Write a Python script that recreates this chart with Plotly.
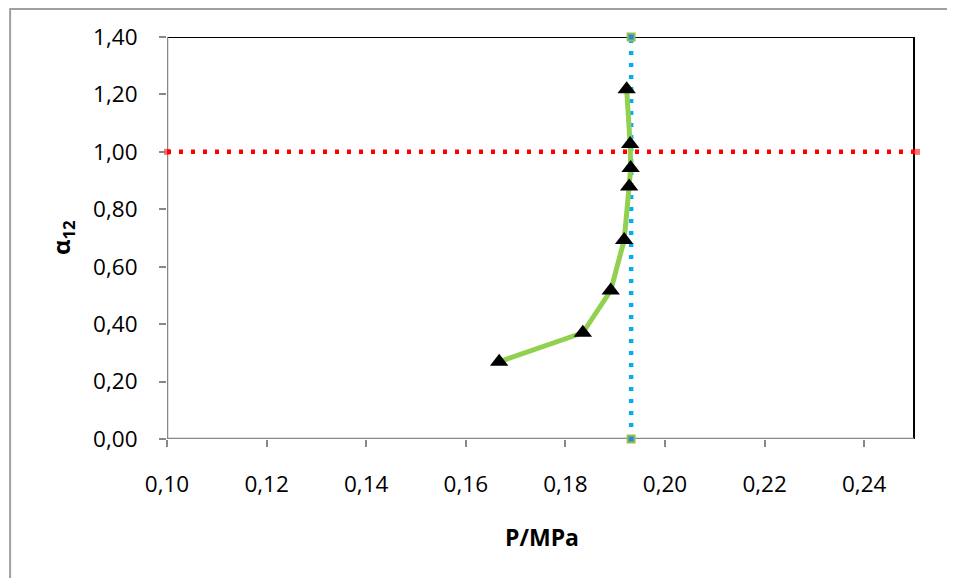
import plotly.graph_objects as go

# Data
pressure = [0.1667, 0.1835, 0.1891, 0.1918, 0.1928, 0.1931, 0.1930, 0.1923]
alpha12 = [0.269, 0.370, 0.517, 0.693, 0.879, 0.944, 1.027, 1.218]

ref_alpha_x = [0.10, 0.2506]
ref_alpha_y = [1.00, 1.00]
ref_p_x = [0.1932, 0.1932]
ref_p_y = [0.00, 1.40]

x_ticks = [0.10, 0.12, 0.14, 0.16, 0.18, 0.20, 0.22, 0.24]
y_ticks = [0.00, 0.20, 0.40, 0.60, 0.80, 1.00, 1.20, 1.40]

# page body offsets the figure by 8px
OFF = 8
W, H = 947, 570
L, T = 167 - OFF, 37 - OFF
R = W - (917.5 - OFF)
B = H - (439 - OFF)
PW, PH = W - L - R, H - T - B

fig = go.Figure()

fig.add_trace(go.Scatter(
    x=ref_alpha_x, y=ref_alpha_y, mode="lines+markers",
    line=dict(color="#FF0000", width=4.5, dash="4px,8px"),
    marker=dict(symbol="square", size=6, color="rgba(255,0,0,0.55)"),
    cliponaxis=False, showlegend=False))

fig.add_trace(go.Scatter(
    x=ref_p_x, y=ref_p_y, mode="lines+markers",
    line=dict(color="#00B0F0", width=4.5, dash="4px,8px"),
    marker=dict(symbol="square", size=7, color="#1F8FD0",
                line=dict(color="#9BBB59", width=2)),
    cliponaxis=False, showlegend=False))

fig.add_trace(go.Scatter(
    x=pressure, y=alpha12, mode="lines+markers",
    line=dict(color="#92D050", width=5),
    marker=dict(symbol="triangle-up", size=16, color="black"),
    cliponaxis=False, showlegend=False))

font_family = "Open Sans, Liberation Sans, Arial, sans-serif"

fig.update_layout(
    width=W, height=H,
    margin=dict(l=L, r=R, t=T, b=B, pad=0),
    paper_bgcolor="white", plot_bgcolor="white",
    separators=", ",
    font=dict(family=font_family, size=22, color="black"),
    xaxis=dict(range=[0.10, 0.2506], tickvals=x_ticks, tickformat=".2f",
               showgrid=False, zeroline=False, showline=False,
               ticks="outside", ticklen=7, tickwidth=2, tickcolor="#888888",
               ticklabelstandoff=18, tickfont=dict(size=22.5)),
    yaxis=dict(range=[0, 1.40], tickvals=y_ticks, tickformat=".2f",
               showgrid=False, zeroline=False, showline=False,
               ticks="outside", ticklen=7, tickwidth=2, tickcolor="#888888",
               ticklabelstandoff=17, tickfont=dict(size=22.5)),
    shapes=[
        # outer chart frame
        dict(type="rect", xref="paper", yref="paper",
             x0=(10 - 167) / PW, x1=1.2,
             y0=-0.6, y1=(H - B - 1) / PH,
             line=dict(color="#A0A0A0", width=2), fillcolor="rgba(0,0,0,0)",
             layer="below"),
        # axes / plot border
        dict(type="line", xref="x", yref="y", x0=0.10, x1=0.25, y0=1.40, y1=1.40,
             line=dict(color="black", width=2), layer="below"),
        dict(type="line", xref="x", yref="y", x0=0.25, x1=0.25, y0=0, y1=1.40,
             line=dict(color="black", width=2), layer="below"),
        dict(type="line", xref="x", yref="y", x0=0.10, x1=0.10, y0=0, y1=1.40,
             line=dict(color="#888888", width=2.5), layer="below"),
        dict(type="line", xref="x", yref="y", x0=0.10, x1=0.25, y0=0, y1=0,
             line=dict(color="#888888", width=2.5), layer="below"),
    ],
    annotations=[
        dict(text="<b>P/MPa</b>", xref="paper", yref="paper",
             x=0.5, y=-(537 - 439) / PH,
             xanchor="center", yanchor="middle", showarrow=False,
             font=dict(size=23, family=font_family)),
        dict(text="<b>α<sub>12</sub></b>", xref="paper", yref="paper",
             x=-(167 - 62) / PW, y=0.5, textangle=-90,
             xanchor="center", yanchor="middle", showarrow=False,
             font=dict(size=24, family=font_family)),
    ],
)

fig.write_html("out.html")
